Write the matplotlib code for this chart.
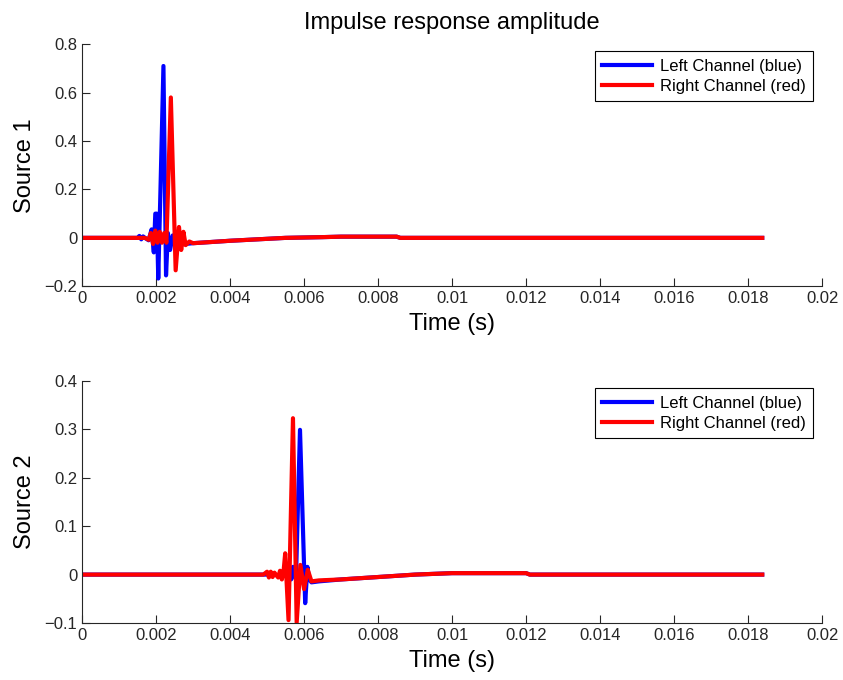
import matplotlib.pyplot as plt

plt.rcParams['font.family'] = ['Liberation Sans', 'DejaVu Sans']

# Source 1 key points (time in s, amplitude)
t1_left = [0, 0.00150, 0.00155, 0.00160, 0.00165, 0.00170, 0.00180, 0.00188, 0.00194,
           0.00198, 0.00202, 0.00206, 0.00212, 0.00220, 0.00227, 0.00232, 0.00238,
           0.00245, 0.00260, 0.00280, 0.00300, 0.00400, 0.00500, 0.00550, 0.00650,
           0.00700, 0.00850, 0.00860, 0.01838]
a1_left = [0, 0, 0.008, -0.006, 0.006, 0, -0.01, 0.035, -0.06, 0.10, 0.10, -0.168,
           0.2, 0.71, -0.155, 0.02, -0.05, 0.01, -0.03, -0.025, -0.022, -0.012, -0.004,
           0.0, 0.003, 0.005, 0.005, 0.0, 0]
t1_right = [0, 0.00170, 0.00180, 0.00186, 0.00192, 0.00198, 0.00204, 0.00210, 0.00216,
            0.00222, 0.00228, 0.00240, 0.00253, 0.00262, 0.00268, 0.00274, 0.00280,
            0.00290, 0.00300, 0.00400, 0.00500, 0.00550, 0.00650, 0.00700, 0.00850,
            0.00860, 0.01838]
a1_right = [0, 0, -0.008, 0.02, -0.025, 0.03, -0.02, 0.025, -0.02, 0.02, -0.02, 0.58,
            -0.134, 0.045, -0.05, 0.025, -0.03, -0.015, -0.022, -0.012, -0.004, 0.0,
            0.003, 0.005, 0.005, 0.0, 0]

# Source 2 key points
t2_left = [0, 0.00520, 0.00540, 0.00555, 0.00565, 0.00570, 0.00578, 0.00589, 0.00603,
           0.00609, 0.00614, 0.00620, 0.00640, 0.00700, 0.00800, 0.00900, 0.01000,
           0.01200, 0.01210, 0.01838]
a2_left = [0, 0, -0.005, 0.005, -0.01, 0.016, -0.01, 0.299, -0.059, 0.016, -0.01,
           -0.016, -0.014, -0.01, -0.005, 0.0, 0.003, 0.003, 0.0, 0]
t2_right = [0, 0.00490, 0.00500, 0.00505, 0.00510, 0.00515, 0.00520, 0.00530, 0.00535,
            0.00540, 0.00545, 0.00549, 0.00558, 0.00570, 0.00580, 0.00590, 0.00600,
            0.00610, 0.00620, 0.00640, 0.00700, 0.00800, 0.00900, 0.01000, 0.01200,
            0.01210, 0.01838]
a2_right = [0, 0, 0.006, -0.006, 0.006, -0.005, 0.004, -0.006, 0.008, -0.01, 0.01,
            0.044, -0.094, 0.323, -0.099, 0.02, -0.03, 0.01, -0.014, -0.012, -0.01,
            -0.005, 0.0, 0.003, 0.003, 0.0, 0]

x_ticks = [0, 0.002, 0.004, 0.006, 0.008, 0.01, 0.012, 0.014, 0.016, 0.018, 0.02]
x_labels = ['0', '0.002', '0.004', '0.006', '0.008', '0.01', '0.012', '0.014',
            '0.016', '0.018', '0.02']

fig = plt.figure(figsize=(8.43, 6.8), dpi=100)
ax1 = fig.add_axes([0.0973, 0.579, 0.878, 0.356])
ax2 = fig.add_axes([0.0973, 0.0838, 0.878, 0.356])

panels = [
    (ax1, t1_left, a1_left, t1_right, a1_right, (-0.2, 0.8),
     [-0.2, 0, 0.2, 0.4, 0.6, 0.8], ['\u22120.2', '0', '0.2', '0.4', '0.6', '0.8'], 'Source 1'),
    (ax2, t2_left, a2_left, t2_right, a2_right, (-0.1, 0.4),
     [-0.1, 0, 0.1, 0.2, 0.3, 0.4], ['\u22120.1', '0', '0.1', '0.2', '0.3', '0.4'], 'Source 2'),
]

for ax, tl, al, tr, ar, ylim, yt, ylab, name in panels:
    ax.plot(tl, al, color='blue', lw=3, label='Left Channel (blue)')
    ax.plot(tr, ar, color='red', lw=3, label='Right Channel (red)')
    ax.set_xlim(0, 0.02)
    ax.set_ylim(*ylim)
    ax.set_xticks(x_ticks)
    ax.set_xticklabels(x_labels)
    ax.set_yticks(yt)
    ax.set_yticklabels(ylab)
    ax.tick_params(direction='in', length=6, labelsize=12, width=0.8, colors='#262626')
    for side in ['top', 'right']:
        ax.spines[side].set_visible(False)
    for side in ['left', 'bottom']:
        ax.spines[side].set_color('#262626')
    ax.set_xlabel('Time (s)', fontsize=17, labelpad=5)
    ax.set_ylabel(name, fontsize=17, labelpad=6)
    leg = ax.legend(loc='upper right', bbox_to_anchor=(0.9875, 0.97), fontsize=12,
                    fancybox=False, framealpha=1, edgecolor='black', borderpad=0.45,
                    handlelength=3.0, handletextpad=0.45, labelspacing=0.3,
                    borderaxespad=0)
    leg.get_frame().set_linewidth(0.8)

ax1.set_title('Impulse response amplitude', fontsize=17, pad=11)

fig.savefig('out.png', dpi=100)
